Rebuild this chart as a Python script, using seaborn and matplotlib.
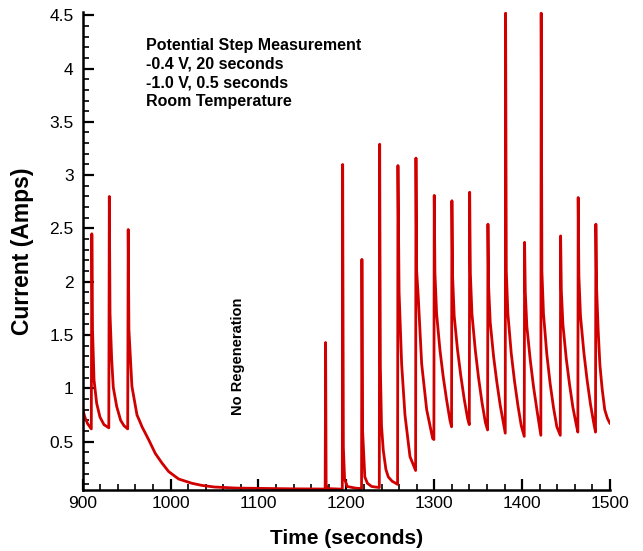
import numpy as np
import pandas as pd
import seaborn as sns
import matplotlib.pyplot as plt
from matplotlib.ticker import MultipleLocator, FormatStrFormatter

# early cycles (regeneration still running), then the long decay with no regeneration
early_t = [900.0, 902.5, 905.5, 909.8, 910.4, 911.2, 912.9, 915.9, 919.7, 924.2, 929.7,
           930.3, 931.1, 933.0, 934.8, 938.7, 943.2, 947.0, 951.2,
           951.8, 952.6, 956.0, 961.8, 964.5, 967.5, 975.0, 982.6, 990.2, 997.8,
           1009.2, 1024.3, 1035.7, 1050.0, 1075.0, 1100.0, 1140.0, 1175.9]
early_i = [0.80, 0.73, 0.67, 0.62, 2.45, 1.55, 1.08, 0.86, 0.73, 0.66, 0.63,
           2.80, 1.70, 1.27, 1.01, 0.83, 0.70, 0.65, 0.62,
           2.49, 1.55, 1.02, 0.75, 0.70, 0.64, 0.52, 0.39, 0.30, 0.22,
           0.15, 0.11, 0.09, 0.075, 0.065, 0.062, 0.058, 0.056]

# regeneration restarted: first spikes, current builds up again
restart_t = [1176.4, 1177.0, 1178.5, 1195.4, 1195.8, 1196.6, 1198.0, 1201.0, 1210.0,
             1217.3, 1217.7, 1218.5, 1221.0, 1224.0, 1228.8, 1237.5,
             1237.9, 1238.7, 1240.0, 1242.0, 1245.0, 1247.7, 1252.0, 1258.3,
             1258.7, 1260.0, 1262.9, 1266.7, 1272.4, 1278.8,
             1279.2, 1280.0, 1281.8, 1285.7, 1291.4, 1298.2, 1299.6]
restart_i = [1.43, 0.10, 0.06, 0.055, 3.10, 0.45, 0.15, 0.08, 0.065,
             0.06, 2.21, 0.60, 0.17, 0.11, 0.08, 0.07,
             3.29, 1.20, 0.65, 0.42, 0.24, 0.17, 0.13, 0.10,
             3.09, 1.90, 1.23, 0.75, 0.36, 0.23,
             3.16, 2.10, 1.86, 1.23, 0.80, 0.53, 0.52]

# steady cycles: -1.0 V pulse spike then 20 s decay at -0.4 V
steady_t = [1300.0, 1300.8, 1302.7, 1306.5, 1310.2, 1314.1, 1317.9, 1319.7,
            1320.1, 1320.9, 1322.7, 1326.5, 1330.2, 1334.1, 1337.9, 1339.9,
            1340.3, 1341.1, 1342.9, 1346.7, 1350.4, 1354.3, 1358.2, 1360.7,
            1361.1, 1361.9, 1363.7, 1367.5, 1371.2, 1375.1, 1378.9, 1380.8,
            1381.2, 1382.0, 1383.8, 1387.6, 1391.3, 1395.2, 1399.0, 1402.4,
            1402.8, 1403.6, 1405.4, 1409.2, 1412.9, 1416.8, 1419.6, 1421.3,
            1421.7, 1422.5, 1424.3, 1428.1, 1431.8, 1435.7, 1439.5, 1443.4,
            1443.8, 1444.6, 1446.4, 1450.2, 1453.9, 1457.8, 1461.6, 1463.4,
            1463.8, 1464.6, 1466.4, 1470.2, 1473.9, 1477.8, 1481.6, 1483.5,
            1483.9, 1484.7, 1486.5, 1488.5, 1491.0, 1494.0, 1497.0, 1500.0]
steady_i = [2.81, 2.08, 1.70, 1.36, 1.11, 0.89, 0.70, 0.64,
            2.76, 2.05, 1.68, 1.36, 1.12, 0.90, 0.72, 0.66,
            2.84, 2.08, 1.70, 1.36, 1.10, 0.87, 0.68, 0.61,
            2.54, 1.95, 1.62, 1.30, 1.06, 0.84, 0.67, 0.58,
            4.52, 2.10, 1.70, 1.33, 1.07, 0.84, 0.65, 0.55,
            2.37, 1.90, 1.58, 1.27, 1.02, 0.80, 0.65, 0.56,
            4.52, 2.10, 1.70, 1.32, 1.05, 0.82, 0.64, 0.56,
            2.43, 1.92, 1.60, 1.28, 1.04, 0.82, 0.66, 0.59,
            2.79, 2.05, 1.68, 1.34, 1.08, 0.85, 0.67, 0.59,
            2.54, 1.95, 1.55, 1.22, 1.00, 0.80, 0.72, 0.67]

notes = ["Potential Step Measurement", "-0.4 V, 20 seconds",
         "-1.0 V, 0.5 seconds", "Room Temperature"]

df = pd.DataFrame({'time': early_t + restart_t + steady_t,
                   'current': early_i + restart_i + steady_i})

sns.set_style("ticks")
plt.rcParams['font.family'] = ['Liberation Sans', 'DejaVu Sans']
plt.rcParams['text.color'] = 'black'
plt.rcParams['axes.labelcolor'] = 'black'
plt.rcParams['xtick.color'] = 'black'
plt.rcParams['ytick.color'] = 'black'

fig = plt.figure(figsize=(6.43, 5.51), dpi=100)
ax = fig.add_axes([0.1286, 0.1107, 0.8201, 0.8675])

sns.lineplot(x='time', y='current', data=df, ax=ax, estimator=None, sort=False,
             color='#d10000', linewidth=2.0)

ax.set_xlim(900, 1500)
ax.set_ylim(0.047, 4.53)
ax.xaxis.set_major_locator(MultipleLocator(100))
ax.xaxis.set_minor_locator(MultipleLocator(20))
ax.yaxis.set_major_locator(MultipleLocator(0.5))
ax.yaxis.set_minor_locator(MultipleLocator(0.1))
ax.yaxis.set_major_formatter(FormatStrFormatter('%g'))

sns.despine(ax=ax)
for s in ['left', 'bottom']:
    ax.spines[s].set_linewidth(1.8)
    ax.spines[s].set_color('black')
ax.tick_params(which='major', direction='in', length=8, width=1.6, labelsize=12.5,
               color='black', labelcolor='black')
ax.tick_params(axis='y', which='major', pad=6.5)
ax.tick_params(axis='x', which='major', pad=4.5)
ax.tick_params(which='minor', direction='in', length=4.5, width=1.2, color='black')

ax.set_xlabel('Time (seconds)', fontsize=15, fontweight='bold', labelpad=13, color='black')
ax.set_ylabel('Current (Amps)', fontsize=16.5, fontweight='bold', labelpad=11, color='black')

for k, line in enumerate(notes):
    ax.text(0.12, 0.93 - k * 0.039, line, transform=ax.transAxes, color='black',
            fontsize=11.5, fontweight='bold', va='center', ha='left')

ax.text(0.295, 0.28, 'No Regeneration', transform=ax.transAxes, rotation=90,
        color='black', fontsize=10.5, fontweight='bold', va='center', ha='center')

fig.savefig('out.png', dpi=100)
